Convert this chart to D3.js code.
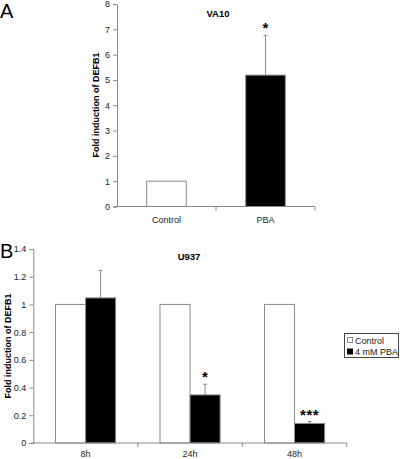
<!DOCTYPE html>
<html><head><meta charset="utf-8">
<script src="https://cdn.jsdelivr.net/npm/d3@7"></script>
<style>body{margin:0;background:#fff}svg{display:block}text{font-family:"Liberation Sans",Arial,sans-serif}</style>
</head><body>
<script>
// Panel A data
const catsA = ["Control", "PBA"];
const valsA = [1, 5.19];
const errA = [0, 1.57];
const starsA = ["", "*"];
const ticksA = [0,1,2,3,4,5,6,7,8];
// Panel B data
const timesB = ["8h", "24h", "48h"];
const seriesB = ["Control", "4 mM PBA"];
const controlB = [1, 1, 1];
const pbaB = [1.047, 0.347, 0.141];
const pbaErrB = [0.197, 0.077, 0.014];
const starsB = ["", "*", "***"];
const ticksB = [0, 0.2, 0.4, 0.6, 0.8, 1, 1.2, 1.4];
const yTitle = "Fold induction of DEFB1";

const W = 400, H = 459;
const gray = "#8a8a8a";
const svg = d3.select("body").append("svg").attr("width", W).attr("height", H);

function yAxis(g, y, ticks, x0) {
  const ax = d3.axisLeft(y).tickValues(ticks).tickSize(4).tickPadding(3).tickFormat(d3.format("~g"));
  const a = g.append("g").attr("transform", `translate(${x0},0)`).call(ax);
  a.select(".domain").attr("stroke", gray);
  a.selectAll(".tick line").attr("stroke", gray);
  a.selectAll("text").attr("font-size", 9).attr("fill", "#222").style("font-family", "Liberation Sans, Arial, sans-serif");
}
function xAxis(g, x, y0, dy) {
  const r = x.range();
  g.append("line").attr("x1", r[0] - 2).attr("x2", r[1]).attr("y1", y0).attr("y2", y0).attr("stroke", gray);
  const n = x.domain().length;
  for (let k = 1; k <= n; k++) {
    const tx = r[0] + k * x.step();
    g.append("line").attr("x1", tx).attr("x2", tx).attr("y1", y0).attr("y2", y0 + 4).attr("stroke", gray);
  }
  g.selectAll(null).data(x.domain()).enter().append("text")
    .attr("x", d => x(d) + x.bandwidth() / 2).attr("y", y0 + dy)
    .attr("text-anchor", "middle").attr("font-size", 9).attr("fill", "#222").text(d => d);
}

// ---------- Panel A ----------
const gA = svg.append("g");
const xA = d3.scaleBand().domain(catsA).range([117, 315]).paddingInner(0.6).paddingOuter(0.3);
const yA = d3.scaleLinear().domain([0, 8]).range([206.5, 4]);
gA.selectAll("rect").data(catsA).enter().append("rect")
  .attr("x", d => xA(d)).attr("width", xA.bandwidth())
  .attr("y", (d, i) => yA(valsA[i])).attr("height", (d, i) => yA(0) - yA(valsA[i]))
  .attr("fill", (d, i) => i === 0 ? "#fff" : "#000").attr("stroke", gray).attr("stroke-width", 1);
catsA.forEach((c, i) => {
  if (errA[i] > 0) {
    const cx = xA(c) + xA.bandwidth() / 2;
    gA.append("line").attr("x1", cx).attr("x2", cx).attr("y1", yA(valsA[i])).attr("y2", yA(valsA[i] + errA[i])).attr("stroke", gray);
    gA.append("line").attr("x1", cx - 2).attr("x2", cx + 2).attr("y1", yA(valsA[i] + errA[i])).attr("y2", yA(valsA[i] + errA[i])).attr("stroke", gray);
  }
  if (starsA[i]) {
    gA.append("text").attr("x", xA(c) + xA.bandwidth() / 2).attr("y", yA(valsA[i] + errA[i]) - 2)
      .attr("text-anchor", "middle").attr("font-size", 15).attr("font-weight", "bold").attr("fill", "#000").text(starsA[i]);
  }
});
yAxis(gA, yA, ticksA, 117);
xAxis(gA, xA, 206.5, 16);
gA.append("text").attr("x", 218).attr("y", 16.5).attr("text-anchor", "middle").attr("font-size", 9.5).attr("font-weight", "bold").text("VA10");
gA.append("text").attr("transform", "translate(99,105) rotate(-90)").attr("text-anchor", "middle").attr("font-size", 9).attr("font-weight", "bold").text(yTitle);
svg.append("text").attr("x", 0).attr("y", 18).attr("font-size", 20).text("A");

// ---------- Panel B ----------
const gB = svg.append("g");
const xB = d3.scaleBand().domain(timesB).range([33.3, 346.8]).paddingInner(0.425).paddingOuter(0.2125);
const xSub = d3.scaleBand().domain(seriesB).range([0, xB.bandwidth()]);
const yB = d3.scaleLinear().domain([0, 1.4]).range([443, 249]);
const valsB = [controlB, pbaB];
seriesB.forEach((s, si) => {
  gB.selectAll(null).data(timesB).enter().append("rect")
    .attr("x", d => xB(d) + xSub(s)).attr("width", xSub.bandwidth())
    .attr("y", (d, i) => yB(valsB[si][i])).attr("height", (d, i) => yB(0) - yB(valsB[si][i]))
    .attr("fill", si === 0 ? "#fff" : "#000").attr("stroke", gray).attr("stroke-width", 1);
});
timesB.forEach((t, i) => {
  const cx = xB(t) + xSub(seriesB[1]) + xSub.bandwidth() / 2;
  const top = yB(pbaB[i] + pbaErrB[i]);
  gB.append("line").attr("x1", cx).attr("x2", cx).attr("y1", yB(pbaB[i])).attr("y2", top).attr("stroke", gray);
  gB.append("line").attr("x1", cx - 2).attr("x2", cx + 2).attr("y1", top).attr("y2", top).attr("stroke", gray);
  if (starsB[i]) {
    gB.append("text").attr("x", cx).attr("y", top - 2).attr("text-anchor", "middle").attr("font-size", 15)
      .attr("font-weight", "bold").attr("letter-spacing", 0.5).attr("fill", "#000").text(starsB[i]);
  }
});
yAxis(gB, yB, ticksB, 33.3);
xAxis(gB, xB, 443, 14);
gB.append("text").attr("x", 189).attr("y", 260).attr("text-anchor", "middle").attr("font-size", 9.5).attr("font-weight", "bold").text("U937");
gB.append("text").attr("transform", "translate(11,346) rotate(-90)").attr("text-anchor", "middle").attr("font-size", 9).attr("font-weight", "bold").text(yTitle);
svg.append("text").attr("x", 0).attr("y", 258).attr("font-size", 20).text("B");

// legend
const lg = svg.append("g");
lg.append("rect").attr("x", 344.5).attr("y", 333.5).attr("width", 54).attr("height", 24).attr("fill", "#fff").attr("stroke", "#444");
seriesB.forEach((s, i) => {
  lg.append("rect").attr("x", 347.5).attr("y", 337.5 + i * 11.5).attr("width", 5).attr("height", 5)
    .attr("fill", i === 0 ? "#fff" : "#000").attr("stroke", i === 0 ? gray : "#000");
  lg.append("text").attr("x", 355).attr("y", 343.5 + i * 11.5).attr("font-size", 9).attr("fill", "#222").text(s);
});
</script>
</body></html>
